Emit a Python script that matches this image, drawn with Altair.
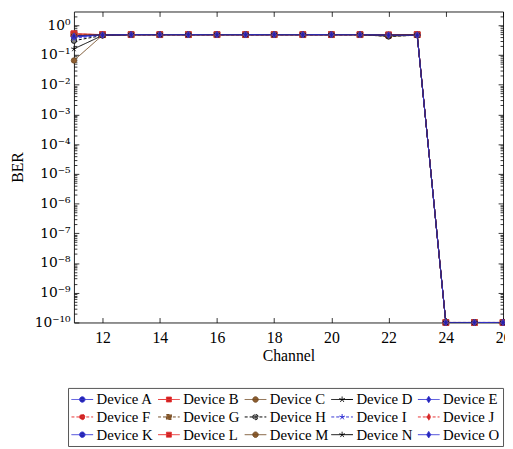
import altair as alt
import pandas as pd

# ---------------- data ----------------
channels = [11, 12, 13, 14, 15, 16, 17, 18, 19, 20, 21, 22, 23, 24, 25, 26]
devices = ["Device A", "Device B", "Device C", "Device D", "Device E",
           "Device F", "Device G", "Device H", "Device I", "Device J",
           "Device K", "Device L", "Device M", "Device N", "Device O"]

ber_a = [0.40, 0.47, 0.48, 0.48, 0.48, 0.48, 0.48, 0.48, 0.48, 0.48, 0.48, 0.46, 0.47, 1e-10, 1e-10, 1e-10]
ber_b = [0.52, 0.48, 0.48, 0.48, 0.48, 0.48, 0.48, 0.48, 0.48, 0.48, 0.48, 0.47, 0.48, 1e-10, 1e-10, 1e-10]
ber_c = [0.065, 0.46, 0.48, 0.48, 0.48, 0.48, 0.48, 0.48, 0.48, 0.48, 0.48, 0.42, 0.46, 1e-10, 1e-10, 1e-10]
ber_d = [0.16, 0.45, 0.48, 0.48, 0.48, 0.48, 0.48, 0.48, 0.48, 0.48, 0.48, 0.46, 0.47, 1e-10, 1e-10, 1e-10]
ber_e = [0.42, 0.47, 0.48, 0.48, 0.48, 0.48, 0.48, 0.48, 0.48, 0.48, 0.48, 0.47, 0.47, 1e-10, 1e-10, 1e-10]
ber_f = [0.46, 0.47, 0.48, 0.48, 0.48, 0.48, 0.48, 0.48, 0.48, 0.48, 0.48, 0.47, 0.47, 1e-10, 1e-10, 1e-10]
ber_g = [0.50, 0.48, 0.48, 0.48, 0.48, 0.48, 0.48, 0.48, 0.48, 0.48, 0.48, 0.47, 0.48, 1e-10, 1e-10, 1e-10]
ber_h = [0.30, 0.45, 0.48, 0.48, 0.48, 0.48, 0.48, 0.48, 0.48, 0.48, 0.48, 0.42, 0.46, 1e-10, 1e-10, 1e-10]
ber_i = [0.36, 0.46, 0.48, 0.48, 0.48, 0.48, 0.48, 0.48, 0.48, 0.48, 0.48, 0.47, 0.47, 1e-10, 1e-10, 1e-10]
ber_j = [0.45, 0.47, 0.48, 0.48, 0.48, 0.48, 0.48, 0.48, 0.48, 0.48, 0.48, 0.47, 0.47, 1e-10, 1e-10, 1e-10]
ber_k = [0.42, 0.47, 0.48, 0.48, 0.48, 0.48, 0.48, 0.48, 0.48, 0.48, 0.48, 0.47, 0.47, 1e-10, 1e-10, 1e-10]
ber_l = [0.50, 0.48, 0.48, 0.48, 0.48, 0.48, 0.48, 0.48, 0.48, 0.48, 0.48, 0.47, 0.48, 1e-10, 1e-10, 1e-10]
ber_m = [0.45, 0.47, 0.48, 0.48, 0.48, 0.48, 0.48, 0.48, 0.48, 0.48, 0.48, 0.46, 0.47, 1e-10, 1e-10, 1e-10]
ber_n = [0.44, 0.47, 0.48, 0.48, 0.48, 0.48, 0.48, 0.48, 0.48, 0.48, 0.48, 0.46, 0.47, 1e-10, 1e-10, 1e-10]
ber_o = [0.43, 0.47, 0.48, 0.48, 0.48, 0.48, 0.48, 0.48, 0.48, 0.48, 0.48, 0.46, 0.46, 1e-10, 1e-10, 1e-10]

series = [ber_a, ber_b, ber_c, ber_d, ber_e, ber_f, ber_g, ber_h,
          ber_i, ber_j, ber_k, ber_l, ber_m, ber_n, ber_o]

x_ticks = [12, 14, 16, 18, 20, 22, 24, 26]
y_major = [1e-10, 1e-9, 1e-8, 1e-7, 1e-6, 1e-5, 1e-4, 1e-3, 1e-2, 1e-1, 1.0]
y_major_labels = ["10⁻¹⁰", "10⁻⁹", "10⁻⁸", "10⁻⁷", "10⁻⁶", "10⁻⁵",
                  "10⁻⁴", "10⁻³", "10⁻²", "10⁻¹", "10⁰"]
y_minor = [k * v for v in y_major for k in range(2, 10) if k * v < 2.8]

# ---------------- styles ----------------
FONT = "Liberation Serif"
BLUE, RED, BROWN, BLACK = "#3434d4", "#e83434", "#734d26", "#000000"
BLUE_F, RED_F, BROWN_F = "#2424a8", "#c82020", "#8f5f30"
line_colors = [BLUE, RED, BROWN, BLACK, BLUE,
               RED, BROWN, BLACK, BLUE, RED,
               BLUE, RED, BROWN, BLACK, BLUE]
fill_colors = [BLUE_F, RED_F, BROWN_F, BLACK, BLUE_F,
               RED_F, BROWN_F, "#808080", BLUE, RED_F,
               BLUE_F, RED_F, BROWN_F, BLACK, BLUE_F]
SOLID, DASH = [1, 0], [3, 2]
dashes = [SOLID] * 5 + [DASH] * 5 + [SOLID] * 5

# legend symbols: size 256 -> 1 unit = 8 px; line spans 22 px, marker at its middle
U = 8.0
MC = 3.0  # marker centre (px) relative to symbol centre


def u(v):
    return f"{v / U:.4f}"


def circle_path(r):
    return (f"M{u(MC - r)},0A{u(r)},{u(r)},0,1,1,{u(MC + r)},0"
            f"A{u(r)},{u(r)},0,1,1,{u(MC - r)},0Z")


def square_path(h):
    return f"M{u(MC - h)},{u(-h)}H{u(MC + h)}V{u(h)}H{u(MC - h)}Z"


def star_path(r):
    pts = [(0, -1), (0.951, -0.309), (0.588, 0.809), (-0.588, 0.809), (-0.951, -0.309)]
    return "".join(f"M{u(MC)},0L{u(MC + r * a)},{u(r * b)}" for a, b in pts)


def diamond_path(w, h):
    return f"M{u(MC)},{u(-h)}L{u(MC + w)},0L{u(MC)},{u(h)}L{u(MC - w)},0Z"


marker_for = [circle_path(2.75), square_path(2.5), circle_path(2.75),
              star_path(3.0), diamond_path(2.1, 3.3)] * 3
legend_line = f"M{u(MC - 11)},0H{u(MC + 11)}"
legend_paths = [legend_line + m for m in marker_for]

star_shape = ("M0,0L0,-1M0,0L0.951,-0.309M0,0L0.588,0.809"
              "M0,0L-0.588,0.809M0,0L-0.951,-0.309")
diamond_shape = "M0,-1L0.62,0L0,1L-0.62,0Z"

rows = []
for dev, vals in zip(devices, series):
    for ch, v in zip(channels, vals):
        rows.append({"Device": dev, "Channel": ch, "BER": v})
df = pd.DataFrame(rows)

W, H = 436, 316
xscale = alt.Scale(domain=[11, 26], nice=False, zero=False)
yscale = alt.Scale(type="log", domain=[1e-10, 10 ** 0.46], nice=False)
stroke_scale = alt.Scale(domain=devices, range=line_colors)
fill_scale = alt.Scale(domain=devices, range=fill_colors)
dash_scale = alt.Scale(domain=devices, range=dashes)
legend_shape_scale = alt.Scale(domain=devices, range=legend_paths)

label_expr = " : ".join(
    f"datum.value > {v * 0.5} ? '{lab}'" for v, lab in
    zip(reversed(y_major[1:]), reversed(y_major_labels[1:]))
) + f" : '{y_major_labels[0]}'"

tick_common = dict(labels=False, domain=False, grid=False, title=None,
                   tickColor="black", tickWidth=0.8)

ax_x_main = alt.Axis(orient="bottom", values=x_ticks, tickSize=0, domain=False,
                     grid=False, labelFont=FONT, labelFontSize=16, labelColor="black",
                     labelPadding=7, labelFlush=False, title="Channel",
                     titleFont=FONT, titleFontSize=16, titleFontWeight="normal",
                     titleColor="black", titlePadding=3)
ax_x_in_b = alt.Axis(orient="top", offset=-H, values=x_ticks, tickSize=5, **tick_common)
ax_x_in_t = alt.Axis(orient="bottom", offset=-H, values=x_ticks, tickSize=5, **tick_common)

ax_y_main = alt.Axis(orient="left", values=y_major, tickSize=0, domain=False, grid=False,
                     labelExpr=label_expr, labelFont="DejaVu Serif", labelFontSize=14,
                     labelColor="black", labelPadding=4, labelFlush=False,
                     title="BER", titleFont=FONT, titleFontSize=16,
                     titleFontWeight="normal", titleColor="black", titlePadding=9)
ax_y_l_major = alt.Axis(orient="right", offset=-W, values=y_major, tickSize=5, **tick_common)
ax_y_r_major = alt.Axis(orient="left", offset=-W, values=y_major, tickSize=5, **tick_common)
ax_y_l_minor = alt.Axis(orient="right", offset=-W, values=y_minor, tickSize=3, **tick_common)
ax_y_r_minor = alt.Axis(orient="left", offset=-W, values=y_minor, tickSize=3, **tick_common)

base = alt.Chart(df)


def xy(xa, ya):
    return dict(x=alt.X("Channel:Q", scale=xscale, axis=xa),
                y=alt.Y("BER:Q", scale=yscale, axis=ya))


lines = base.mark_line(strokeWidth=1, opacity=1).encode(
    **xy(ax_x_main, ax_y_main),
    stroke=alt.Stroke("Device:N", scale=stroke_scale, title=None),
    strokeDash=alt.StrokeDash("Device:N", scale=dash_scale, title=None),
    order=alt.Order("Channel:Q"),
)


def pts(names, shape, size, xa, ya, filled=True):
    sel = [d for d in devices if d in names]
    enc = dict(stroke=alt.Stroke("Device:N", scale=stroke_scale, title=None))
    if filled:
        enc["fill"] = alt.Fill("Device:N", scale=fill_scale, title=None)
    return base.transform_filter(
        alt.FieldOneOfPredicate(field="Device", oneOf=sel)
    ).mark_point(shape=shape, size=size, filled=filled, opacity=1,
                 strokeWidth=0.8).encode(**xy(xa, ya), **enc)


squares = pts(["Device B", "Device G", "Device L"], "square", 34, ax_x_in_b, ax_y_l_major)
circles = pts(["Device A", "Device C", "Device F", "Device H", "Device K", "Device M"],
              "circle", 30, ax_x_in_t, ax_y_r_major)
stars = pts(["Device D", "Device I", "Device N"], star_shape, 36, None, ax_y_l_minor,
            filled=False)
diamonds = pts(["Device E", "Device J", "Device O"], diamond_shape, 40, None, ax_y_r_minor)

legend_layer = base.transform_filter("false").mark_point(
    filled=True, opacity=1, strokeWidth=1
).encode(
    **xy(None, None),
    shape=alt.Shape("Device:N", scale=legend_shape_scale, title=None),
    fill=alt.Fill("Device:N", scale=fill_scale, title=None),
    stroke=alt.Stroke("Device:N", scale=stroke_scale, title=None),
    strokeDash=alt.StrokeDash("Device:N", scale=dash_scale, title=None),
)

chart = alt.layer(lines, squares, circles, stars, diamonds, legend_layer).resolve_axis(
    x="independent", y="independent"
).properties(
    width=W, height=H,
    autosize=alt.AutoSizeParams(type="none"),
    padding={"left": 67, "top": 0, "right": 2, "bottom": 125},
).configure_view(
    stroke="#222", strokeWidth=1
).configure_legend(
    orient="none", legendX=-6, legendY=382.5, columns=5, direction="horizontal",
    gridAlign="all",
    symbolSize=256, symbolStrokeWidth=1, labelFont=FONT, labelFontSize=15,
    labelColor="black", labelOffset=9, labelLimit=300, columnPadding=0,
    rowPadding=1, padding=3, strokeColor="#555", symbolOpacity=1,
)

chart.save("out.html", embed_options={"renderer": "svg", "actions": False})
